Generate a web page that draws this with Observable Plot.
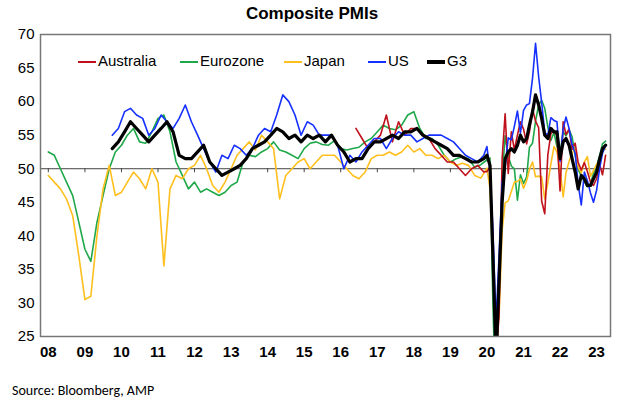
<!DOCTYPE html>
<html><head><meta charset="utf-8">
<script src="https://cdn.jsdelivr.net/npm/d3@7"></script>
<script src="https://cdn.jsdelivr.net/npm/@observablehq/plot@0.6"></script>
<style>
body{margin:0;background:#fff;font-family:Calibri,"Liberation Sans",Arial,sans-serif;}
#wrap{position:relative;width:624px;}
#title{text-align:center;font:bold 17px "Liberation Sans",Arial,sans-serif;height:22px;line-height:28px;}
#legend{position:absolute;top:52px;left:0;font:15px "Liberation Sans",Arial,sans-serif;}
#legend span{position:absolute;white-space:nowrap;}
#legend i{display:inline-block;width:18px;vertical-align:middle;margin-right:2px;}
#src{font:14px Calibri,"Liberation Sans",Arial,sans-serif;padding:14px 0 0 12px;}
</style></head>
<body><div id="wrap"><div id="title">Composite PMIs</div><div id="chart"></div><div id="legend"></div><div id="src">Source: Bloomberg, AMP</div></div>
<script>
// bimonthly values up to end 2019, monthly from Jan 2020
const euroBi = [52.5,52,50,48,46,42, 38,36.2,42,46,50,52.5, 53.5,55,56,54,53.8,55.5, 57.5,58,55.5,51,49,47,
  48,46.5,47,46.5,46,46.5, 47.5,48,51,52,51.8,52.5, 53,54,52.8,52.5,52,51.5, 53,53.8,54,53.6,53.5,54.2,
  53,52.8,53,53.2,54,54.5, 55.5,56.5,56,55.8,56.5,58, 58.5,56,54.5,54.5,53.5,52, 51,51.5,51.8,51.5,50.2,50.6];
const euroMo = [51.3,51.6,29.7,13.6,31.9,48.5,54.9,51.9,50.4,50.0,45.3,49.1, 47.8,48.8,53.2,53.8,57.1,59.5,60.2,59.0,56.2,54.2,55.4,53.3,
  52.3,55.5,54.9,55.8,54.8,52.0,49.9,48.9,48.1,47.3,47.8,49.3, 50.3,52.0,53.7,54.1];
const japanBi = [49,48,47,45.5,43,37, 30.5,31,40,47,50.5,46, 46.5,48,49.5,48.5,47,50, 48,35.5,47,49,48.5,50,
  50.5,52,50,47.5,46.5,48, 50,52,53,54,52.8,55, 54,53,45.5,49,50,51, 51.5,50,51,52,52,52,
  51,50,49,48.5,49.5,51.5, 52,52,52.5,52,52.5,53.5, 52.5,53,52,52,51.5,52, 51,50.5,50.8,50.5,49,48.6];
const japanMo = [50.1,47,36.2,25.8,27.8,40.8,44.9,45.2,46.6,48,48.1,48.5, 47.1,48.2,49.9,51,48.8,48.9,48.8,45.5,47.9,50.7,53.3,52.5,
  49.9,45.8,49.4,51.1,52.3,53,50.2,49.4,51,51.8,48.9,49.7, 50.7,51.1,52.9,52.9];
// from Oct 2009
const usBi = [55,56, 58.5,59,58,57.5,55,56, 58,57,56,57.5,59.5,57, 55,53,51,49.5,52,51.5, 53.5,53,52,53,55,56,
  55.5,58,61,60,58,55, 57,56.5,55,55,55,53.5, 50,52,51,52.5,53.5,54.5, 54.5,53,54.5,55.5,55,55,
  54,54.5,55,55,55,54.5, 54,53,52,51.5,51,52];
const usMo = [53.3,49.6,40.9,27,37,47.9,50.3,54.6,54.3,56.3,58.6,55.3, 58.7,59.5,59.7,63.5,68.7,63.7,59.9,55.4,55,57.6,57.2,57,
  51.1,55.9,57.7,56,53.6,52.3,47.7,44.6,49.5,48.2,46.4,45, 46.8,50.1,52.3,53.4];
// from Jun 2016
const ausBi = [56,54.5,53,54, 55,58,54,57,55,56, 56,55,54.5,53,52,51, 51,50,49,50,50.5,49.5];
const ausMo = [49.6,50.2,37.4,21.7,28.1,51.5,58.2,49.3,55.5,52.8,55,57, 55.9,53.7,55.5,58.9,57.1,56.1,45.2,43.3,52.1,55.2,55.7,54.9,
  46.7,57,55.1,55.9,52.9,53.8,50.9,49.8,50.9,49.6,48,47.5, 48.5,50.6,49.1,52];
// from Oct 2009
const g3Bi = [53,54, 55.5,57,56,55,54,55, 56,57,55.5,52,51.5,51.5, 52.5,53.5,51,50,49,49.5, 50,50.5,51.5,53,53.5,54,
  55,56,55.5,54.5,55,54, 55,54.5,55,54,55,53.5, 52.5,51,51.5,51.5,53,54, 54,54.5,55,54.5,55.5,55.5,
  56,55,54.5,54,53.5,53, 52,52,51.5,51,51,51.5];
const g3Mo = [52,50.5,37,22,33,45,51.5,52.5,53,52.5,53.5,55, 54,54.5,56.5,58.5,61,59.5,57.5,55,54.5,56,55.5,55.5,
  51.5,54,54.5,53.5,51.5,49.5,47,49,48.5,47.5,47.5,48.5, 49.5,51.5,53,53.5];
const yearLabels = ["08","09","10","11","12","13","14","15","16","17","18","19","20","21","22","23"];
const yTicks = [25,30,35,40,45,50,55,60,65,70];

const series = [
  {name:"Eurozone", color:"#1fa84a", start:[2008,0], bi:euroBi, mo:euroMo},
  {name:"Japan", color:"#ffbf1f", start:[2008,0], bi:japanBi, mo:japanMo},
  {name:"Australia", color:"#c0101c", start:[2016,5], bi:ausBi, mo:ausMo},
  {name:"US", color:"#1530ff", start:[2009,9], bi:usBi, mo:usMo},
  {name:"G3", color:"#000", start:[2009,9], bi:g3Bi, mo:g3Mo}
];
const rows = [];
for (const s of series) {
  let d = new Date(Date.UTC(s.start[0], s.start[1], 1));
  s.bi.forEach(v => { rows.push({name:s.name, date:d, v}); d = d3.utcMonth.offset(d, 2); });
  let m = new Date(Date.UTC(2020,0,1));
  s.mo.forEach(v => { rows.push({name:s.name, date:m, v}); m = d3.utcMonth.offset(m, 1); });
}
const years = yearLabels.map((l,i) => new Date(Date.UTC(2008+i,0,1)));

const lineMark = s => Plot.line(rows.filter(r => r.name === s.name), {x:"date", y:"v", stroke:s.color, strokeWidth:s.name==="G3"?3.2:1.6, clip:true});

const plot = Plot.plot({
  width:624, height:346, marginLeft:40, marginRight:14, marginTop:12, marginBottom:32,
  style:{fontSize:"15px", fontFamily:"'Liberation Sans',Arial,sans-serif", color:"#000"},
  x:{type:"utc", domain:[new Date(Date.UTC(2007,9,15)), new Date(Date.UTC(2023,4,20))], ticks:years, tickFormat:(d,i)=>yearLabels[i], tickSize:0, tickPadding:10, label:null},
  y:{domain:[25,70], ticks:yTicks, tickSize:0, tickPadding:6, label:null},
  marks:[
    Plot.ruleY([50], {stroke:"#444", strokeWidth:1}),
    Plot.ruleX(years, {y1:50, y2:49.4, stroke:"#444"}),
    ...series.map(lineMark),
    Plot.frame({stroke:"#777", strokeWidth:1.5})
  ]
});
plot.querySelectorAll("[aria-label='x-axis tick label'] text").forEach(t => t.setAttribute("font-weight","bold"));
document.getElementById("chart").append(plot);

const leg = [
  {n:"Australia", c:"#c0101c", x:78, w:2},
  {n:"Eurozone", c:"#1fa84a", x:180, w:2},
  {n:"Japan", c:"#ffbf1f", x:284, w:2},
  {n:"US", c:"#1530ff", x:368, w:2},
  {n:"G3", c:"#000", x:427, w:4}
];
document.getElementById("legend").innerHTML = leg.map(l => `<span style="left:${l.x}px"><i style="border-top:${l.w}px solid ${l.c}"></i>${l.n}</span>`).join("");
</script></body></html>
